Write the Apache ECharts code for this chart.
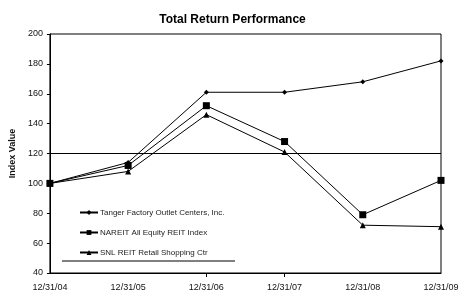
<!DOCTYPE html>
<html lang="en">
<head>
    <meta charset="UTF-8">
    <title>Total Return Performance</title>
    <script src="https://cdn.jsdelivr.net/npm/echarts@6/dist/echarts.min.js"></script>
    <style>
        body { margin: 0; background: #fff; }
    </style>
</head>
<body>
<div id="main" style="width: 465px;height:299px;"></div>

<script>
    var myChart = echarts.init(document.getElementById('main'));

    // 数据
    var dates = ['12/31/04', '12/31/05', '12/31/06', '12/31/07', '12/31/08', '12/31/09'];
    var tanger = [100, 114, 161, 161, 168, 182];
    var nareit = [100, 112, 152, 128, 79, 102];
    var snl = [100, 108, 146, 121, 72, 71];
    var names = ['Tanger Factory Outlet Centers, Inc.', 'NAREIT All Equity REIT Index', 'SNL REIT Retail Shopping Ctr'];

    var font = 'Arial, "Liberation Sans", sans-serif';

    var option = {
        animation: false,
        title: {
            text: 'Total Return Performance',
            left: 'center',
            top: 9,
            textStyle: {fontFamily: font, fontSize: 12, fontWeight: 'bold', color: '#000'}
        },
        legend: {
            orient: 'vertical',
            left: 74,
            top: 202,
            itemWidth: 18,
            itemHeight: 6,
            itemGap: 9,
            textStyle: {fontFamily: font, fontSize: 8, color: '#222', lineHeight: 11, padding: [0, 0, 0, -3]},
            data: names
        },
        grid: {
            left: 44,
            right: 24,
            top: 34,
            bottom: 26,
            show: true,
            borderColor: '#000',
            borderWidth: 1
        },
        xAxis: {
            type: 'category',
            boundaryGap: false,
            data: dates,
            axisLine: {lineStyle: {color: '#000', width: 1}},
            axisTick: {
                show: true,
                length: 4,
                interval: function (index, value) { return value === '12/31/06' || value === '12/31/07'; },
                lineStyle: {color: '#000'}
            },
            axisLabel: {fontFamily: font, fontSize: 9, color: '#111', margin: 10}
        },
        yAxis: {
            type: 'value',
            min: 40,
            max: 200,
            interval: 20,
            name: 'Index Value',
            nameLocation: 'middle',
            nameGap: 31,
            nameTextStyle: {fontFamily: font, fontSize: 9, fontWeight: 'bold', color: '#111'},
            axisLine: {show: true, lineStyle: {color: '#000'}},
            axisTick: {show: true, length: 3, lineStyle: {color: '#000'}},
            axisLabel: {fontFamily: font, fontSize: 9, color: '#111', margin: 7},
            splitLine: {show: false}
        },
        graphic: [{
            type: 'line',
            shape: {x1: 62, y1: 261, x2: 235, y2: 261},
            style: {stroke: '#000', lineWidth: 1}
        }],
        series: [
            {
                name: names[0],
                type: 'line',
                data: tanger,
                symbol: 'diamond',
                symbolSize: 5,
                itemStyle: {color: '#000'},
                lineStyle: {color: '#000', width: 1},
                markLine: {
                    silent: true,
                    symbol: 'none',
                    label: {show: false},
                    lineStyle: {color: '#000', type: 'solid', width: 1},
                    data: [{yAxis: 120}]
                }
            },
            {
                name: names[1],
                type: 'line',
                data: nareit,
                symbol: 'rect',
                symbolSize: 7,
                itemStyle: {color: '#000'},
                lineStyle: {color: '#000', width: 1}
            },
            {
                name: names[2],
                type: 'line',
                data: snl,
                symbol: 'triangle',
                symbolSize: 6,
                itemStyle: {color: '#000'},
                lineStyle: {color: '#000', width: 1}
            }
        ]
    };

    myChart.setOption(option);
</script>
</body>
</html>
